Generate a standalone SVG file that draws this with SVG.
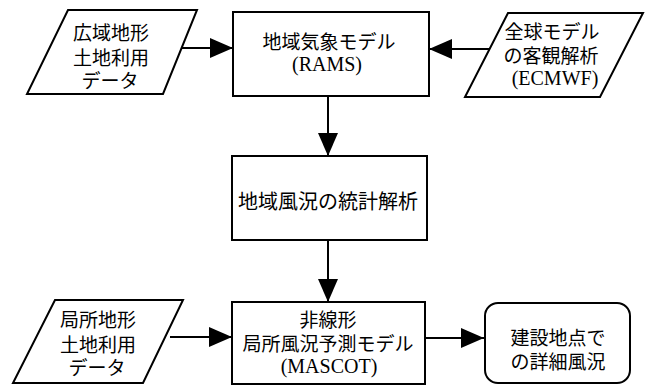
<svg xmlns="http://www.w3.org/2000/svg" width="651" height="385" viewBox="0 0 651 385">
<style>
.shape{fill:#fff;stroke:#000;stroke-width:2}
.jp{font-family:"Noto Sans CJK JP","Noto Sans",sans-serif;font-size:19px;fill:#000;text-anchor:middle}
.en{font-family:"Liberation Serif",serif;font-size:20px;fill:#000;text-anchor:middle}
.conn{stroke:#000;stroke-width:2;fill:none;marker-end:url(#ah)}
</style>
<defs>
<marker id="ah" markerUnits="userSpaceOnUse" markerWidth="23" markerHeight="20" refX="23" refY="10" orient="auto">
<path d="M0,0 L23,10 L0,20 Z" fill="#000"/>
</marker>
</defs>
<g id="connectors">
<line class="conn" x1="182" y1="48" x2="233" y2="48"/>
<line class="conn" x1="490" y1="49" x2="429" y2="49"/>
<line class="conn" x1="328" y1="96" x2="328" y2="156"/>
<line class="conn" x1="328" y1="240" x2="328" y2="302"/>
<line class="conn" x1="170" y1="337" x2="232" y2="337"/>
<line class="conn" x1="425" y1="338" x2="484" y2="338"/>
</g>
<g id="input-wide">
<polygon class="shape" points="68,10 197,10 163,94 27,94"/>
<text class="jp" x="111" y="40">広域地形</text>
<text class="jp" x="111" y="65">土地利用</text>
<text class="jp" x="110" y="88">データ</text>
</g>
<g id="rams">
<rect class="shape" x="233" y="12" width="196" height="84"/>
<text class="jp" x="329" y="49">地域気象モデル</text>
<text class="en" x="327" y="71">(RAMS)</text>
</g>
<g id="ecmwf">
<polygon class="shape" points="508,13 643,13 600,97 465,97"/>
<text class="jp" x="552" y="39">全球モデル</text>
<text class="jp" x="551" y="63">の客観解析</text>
<text class="en" x="555" y="85">(ECMWF)</text>
</g>
<g id="stats">
<rect class="shape" x="232" y="156" width="195" height="84"/>
<text class="jp" x="328" y="209" style="font-size:20px">地域風況の統計解析</text>
</g>
<g id="input-local">
<polygon class="shape" points="55,300 183,300 143,383 13,383"/>
<text class="jp" x="98" y="327">局所地形</text>
<text class="jp" x="98" y="352">土地利用</text>
<text class="jp" x="97" y="375">データ</text>
</g>
<g id="mascot">
<rect class="shape" x="232" y="302" width="193" height="82"/>
<text class="jp" x="328" y="327">非線形</text>
<text class="jp" x="328" y="351">局所風況予測モデル</text>
<text class="en" x="329" y="373">(MASCOT)</text>
</g>
<g id="result">
<rect class="shape" x="485" y="303" width="145" height="80" rx="13" ry="13"/>
<text class="jp" x="558" y="345">建設地点で</text>
<text class="jp" x="558" y="369">の詳細風況</text>
</g>
</svg>
